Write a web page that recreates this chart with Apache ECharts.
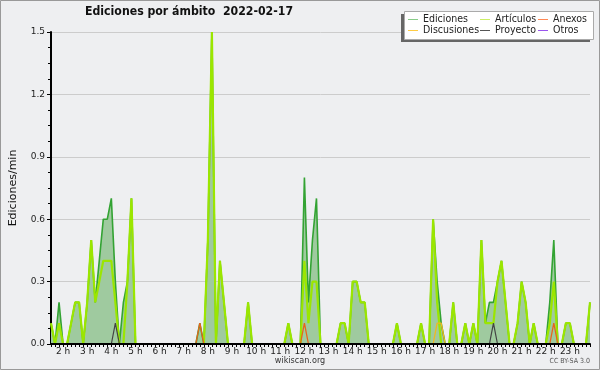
<!DOCTYPE html>
<html><head><meta charset="utf-8">
<script src="https://cdn.jsdelivr.net/npm/echarts@6/dist/echarts.min.js"></script>
<style>html,body{margin:0;padding:0;background:#eeeff1}#c{width:600px;height:370px}</style>
</head><body><div id="c"></div>
<script>
// 10-minute bins starting 01:30
const startHour = 1, startMin = 30, stepMin = 10, nBins = 135;
const categories = [];
for (let i = 0; i < nBins; i++) {
  const t = startHour * 60 + startMin + i * stepMin;
  categories.push(Math.floor(t / 60) + ':' + String(t % 60).padStart(2, '0'));
}
const yTicks = [0, 0.3, 0.6, 0.9, 1.2, 1.5];

const ediciones = [
 0.1,0,0.2,0,0,0.1,0.2,0.2,0,0.2,0.5,0.2,0.4,0.6,0.6,
 0.7,0.3,0,0.2,0.3,0.7,0,0,0,0,0,0,0,0,0,
 0,0,0,0,0,0,0,0.1,0,0.5,1.5,0,0.4,0.2,0,
 0,0,0,0,0.2,0,0,0,0,0,0,0,0,0,0.1,
 0,0,0,0.8,0.2,0.5,0.7,0,0,0,0,0,0.1,0.1,0,
 0.3,0.3,0.2,0.2,0,0,0,0,0,0,0,0.1,0,0,0,
 0,0,0.1,0,0,0.6,0.3,0.1,0,0,0.2,0,0,0.1,0,
 0.1,0,0.5,0.1,0.2,0.2,0.3,0.4,0.2,0,0,0.1,0.3,0.2,0,
 0.1,0,0,0,0.2,0.5,0,0,0.1,0.1,0,0,0,0,0.2
];
const articulos = [
 0.1,0,0.1,0,0,0.1,0.2,0.2,0,0.2,0.5,0.2,0.3,0.4,0.4,
 0.4,0.2,0,0,0.3,0.7,0,0,0,0,0,0,0,0,0,
 0,0,0,0,0,0,0,0,0,0.5,1.5,0,0.4,0.2,0,
 0,0,0,0,0.2,0,0,0,0,0,0,0,0,0,0.1,
 0,0,0,0.4,0.1,0.3,0.3,0,0,0,0,0,0.1,0.1,0,
 0.3,0.3,0.2,0.2,0,0,0,0,0,0,0,0.1,0,0,0,
 0,0,0.1,0,0,0.6,0.2,0,0,0,0.2,0,0,0.1,0,
 0.1,0,0.5,0.1,0.1,0.1,0.3,0.4,0.2,0,0,0.1,0.3,0.2,0,
 0.1,0,0,0,0.1,0.3,0,0,0.1,0.1,0,0,0,0,0.2
];
const anexos = [
 0,0,0,0,0,0,0,0,0,0,0,0,0,0,0,
 0,0,0,0,0,0,0,0,0,0,0,0,0,0,0,
 0,0,0,0,0,0,0,0.1,0,0,0,0,0,0,0,
 0,0,0,0,0,0,0,0,0,0,0,0,0,0,0,
 0,0,0,0.1,0,0,0,0,0,0,0,0,0,0,0,
 0,0,0,0,0,0,0,0,0,0,0,0,0,0,0,
 0,0,0,0,0,0,0,0,0,0,0,0,0,0,0,
 0,0,0,0,0,0,0,0,0,0,0,0,0,0,0,
 0,0,0,0,0,0.1,0,0,0,0,0,0,0,0,0
];
const discusiones = [
 0,0,0,0,0,0,0,0,0,0,0,0,0,0,0,
 0,0,0,0,0,0,0,0,0,0,0,0,0,0,0,
 0,0,0,0,0,0,0,0,0,0,0,0,0,0,0,
 0,0,0,0,0,0,0,0,0,0,0,0,0,0,0,
 0,0,0,0,0,0,0,0,0,0,0,0,0,0,0,
 0,0,0,0,0,0,0,0,0,0,0,0,0,0,0,
 0,0,0,0,0,0,0.1,0.1,0,0,0,0,0,0,0,
 0,0,0,0,0,0,0,0,0,0,0,0,0,0,0,
 0,0,0,0,0,0,0,0,0,0,0,0,0,0,0
];
const proyecto = [
 0,0,0,0,0,0,0,0,0,0,0,0,0,0,0,
 0,0.1,0,0,0,0,0,0,0,0,0,0,0,0,0,
 0,0,0,0,0,0,0,0,0,0,0,0,0,0,0,
 0,0,0,0,0,0,0,0,0,0,0,0,0,0,0,
 0,0,0,0,0,0,0,0,0,0,0,0,0,0,0,
 0,0,0,0,0,0,0,0,0,0,0,0,0,0,0,
 0,0,0,0,0,0,0,0,0,0,0,0,0,0,0,
 0,0,0,0,0,0.1,0,0,0,0,0,0,0,0,0,
 0,0,0,0,0,0,0,0,0,0,0,0,0,0,0
];
const otros = [
 0,0,0,0,0,0,0,0,0,0,0,0,0,0,0,
 0,0,0,0,0,0,0,0,0,0,0,0,0,0,0,
 0,0,0,0,0,0,0,0,0,0,0,0,0,0,0,
 0,0,0,0,0,0,0,0,0,0,0,0,0,0,0,
 0,0,0,0,0,0,0,0,0,0,0,0,0,0,0,
 0,0,0,0,0,0,0,0,0,0,0,0,0,0,0,
 0,0,0,0,0,0,0,0,0,0,0,0,0,0,0,
 0,0,0,0,0,0,0,0,0,0,0,0,0,0,0,
 0,0,0,0,0,0,0,0,0,0,0,0,0,0,0
];

const F = 'DejaVu Sans';
const FC = '"DejaVu Sans Condensed", "DejaVu Sans"';
const chart = echarts.init(document.getElementById('c'), null, {renderer: 'canvas'});
function lg(left, items) {
  return {
    orient: 'vertical', left: left, top: 14, itemWidth: 10, itemHeight: 1, itemGap: 0,
    icon: 'rect', selectedMode: false, padding: 0, z: 6,
    textStyle: {fontFamily: FC, fontSize: 10.5, color: '#222', lineHeight: 10.5, padding: [0,0,0,0]},
    data: items.map(d => ({name: d[0], itemStyle: {color: d[1]}}))
  };
}
chart.setOption({
  backgroundColor: '#eeeff1',
  animation: false,
  title: {
    text: 'Ediciones por ámbito  2022-02-17', left: 85, top: 6, padding: 0,
    textStyle: {fontFamily: FC, fontSize: 12.2, fontWeight: 'bold', color: '#111'}
  },
  legend: [
    lg(408, [['Ediciones', '#88cc88'], ['Discusiones', '#ffcc44']]),
    lg(480, [['Artículos', '#ccee66'], ['Proyecto', '#555555']]),
    lg(538, [['Anexos', '#ff8855'], ['Otros', '#9955ee']])
  ],
  graphic: [
    {type: 'rect', z: 5, shape: {x: 401, y: 14, width: 189, height: 28}, style: {fill: '#666'}},
    {type: 'rect', z: 5, shape: {x: 404.5, y: 11.5, width: 189, height: 28}, style: {fill: '#fff', stroke: '#aaa', lineWidth: 1}},
    {type: 'rect', z: 0, shape: {x: 0.5, y: 0.5, width: 599, height: 369}, style: {fill: 'none', stroke: '#999', lineWidth: 1}},
    {type: 'text', z: 5, left: 'center', top: 356, style: {text: 'wikiscan.org', font: '9px ' + FC, fill: '#333'}},
    {type: 'text', z: 5, right: 10, top: 358, style: {text: 'CC BY-SA 3.0', font: '7px ' + FC, fill: '#555'}}
  ],
  grid: {left: 46, right: 10, top: 32, bottom: 26},
  xAxis: {
    type: 'category', data: categories, boundaryGap: false, z: 8,
    axisLine: {lineStyle: {color: '#000', width: 2}},
    axisTick: {interval: 0, length: 3, lineStyle: {color: '#000'}},
    axisLabel: {
      interval: (i, v) => v.endsWith(':00'),
      formatter: v => v.split(':')[0] + ' h',
      margin: 3, fontFamily: F, fontSize: 9, color: '#222'
    },
    splitLine: {show: false}
  },
  yAxis: {
    type: 'value', min: 0, max: 1.5, interval: 0.3,
    name: 'Ediciones/min', nameLocation: 'middle', nameGap: 32, nameRotate: 90,
    nameTextStyle: {fontFamily: F, fontSize: 11, color: '#111'},
    axisLine: {show: true, lineStyle: {color: '#000', width: 2}},
    axisTick: {show: true, length: 4, lineStyle: {color: '#000'}},
    minorTick: {show: true, splitNumber: 4, length: 3, lineStyle: {color: '#000'}},
    axisLabel: {formatter: v => v.toFixed(1), margin: 6, fontFamily: F, fontSize: 9, color: '#222'},
    splitLine: {lineStyle: {color: '#cccccc', width: 1}}
  },
  series: [
    {name: 'Ediciones', type: 'line', data: ediciones, showSymbol: false, z: 2,
     lineStyle: {color: '#33a333', width: 1.6}, itemStyle: {color: '#88cc88'},
     areaStyle: {color: '#9fca9f', opacity: 1}},
    {name: 'Artículos', type: 'line', data: articulos, showSymbol: false, z: 3,
     lineStyle: {color: '#9be600', width: 2.2}, itemStyle: {color: '#ccee66'}},
    {name: 'Anexos', type: 'line', data: anexos, showSymbol: false, z: 3,
     lineStyle: {color: '#e8641c', width: 1.3}, itemStyle: {color: '#ff8855'}},
    {name: 'Discusiones', type: 'line', data: discusiones, showSymbol: false, z: 3,
     lineStyle: {color: '#f0b820', width: 1.3}, itemStyle: {color: '#ffcc44'}},
    {name: 'Proyecto', type: 'line', data: proyecto, showSymbol: false, z: 3,
     lineStyle: {color: '#444444', width: 1.2}, itemStyle: {color: '#555555'}},
    {name: 'Otros', type: 'line', data: otros, showSymbol: false, z: 3,
     lineStyle: {color: '#9955ee', width: 1}, itemStyle: {color: '#9955ee'}}
  ]
});
</script></body></html>
